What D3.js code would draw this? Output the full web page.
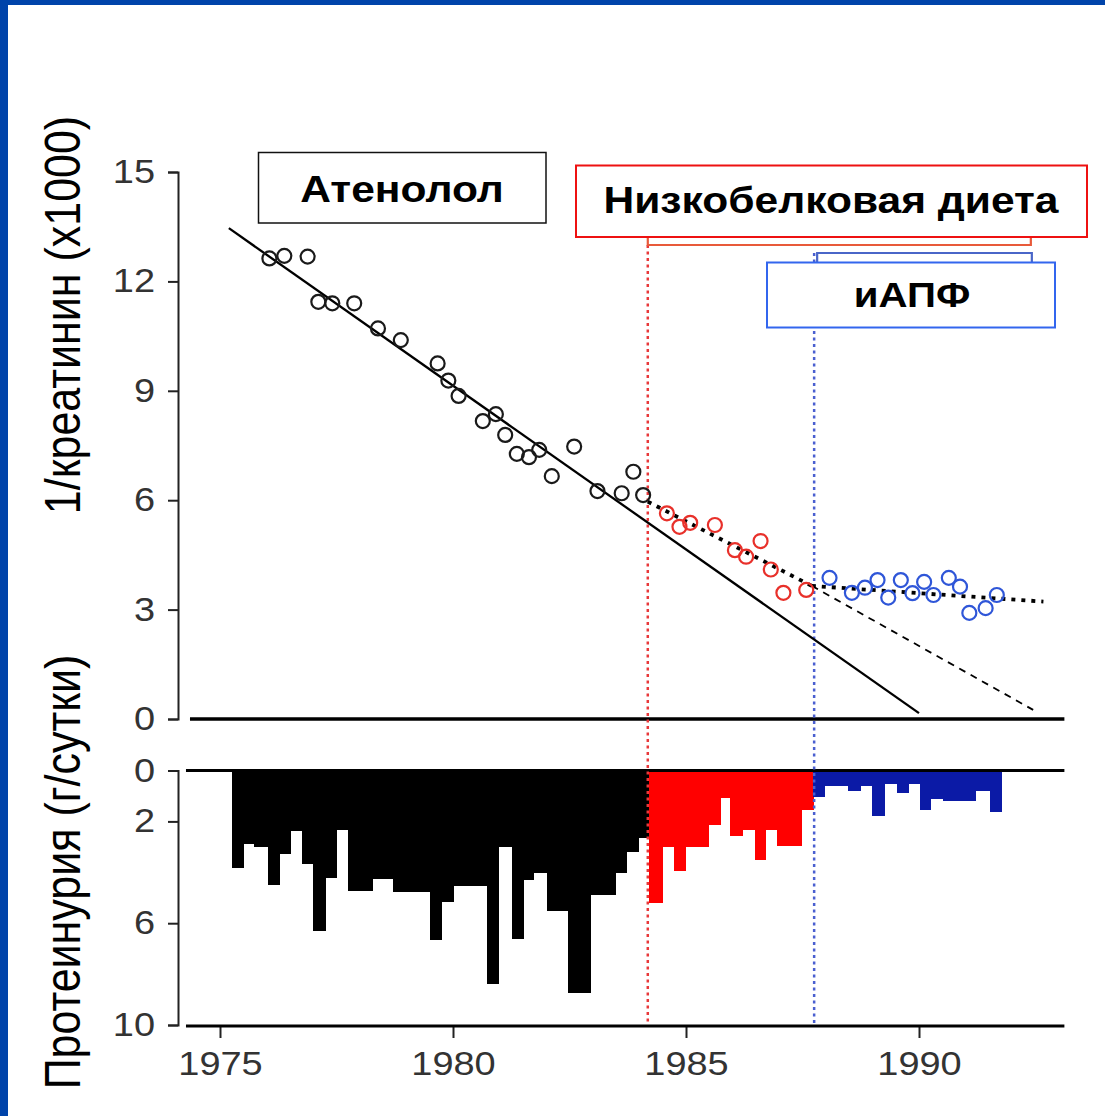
<!DOCTYPE html>
<html><head><meta charset="utf-8">
<script src="https://cdn.jsdelivr.net/npm/d3@7"></script>
<style>
html,body{margin:0;padding:0;background:#fff;}
svg{display:block;}
text{font-family:"Liberation Sans",Arial,sans-serif;}
</style></head>
<body>
<svg id="chart" width="1105" height="1116"></svg>
<script>
// ---- data ----
// 1/creatinine (x1000), by phase
const atenololYears = [1976.06,1976.38,1976.88,1977.11,1977.41,1977.88,1978.39,1978.88,1979.67,1979.90,1980.12,1980.64,1980.92,1981.12,1981.37,1981.63,1981.85,1982.12,1982.60,1983.10,1983.62,1983.87,1984.08];
const atenololVals  = [12.63,12.70,12.68,11.44,11.40,11.40,10.71,10.39,9.75,9.28,8.86,8.17,8.36,7.79,7.27,7.18,7.38,6.66,7.47,6.25,6.19,6.78,6.14];
const dietYears = [1984.59,1984.86,1985.09,1985.62,1986.05,1986.29,1986.60,1986.82,1987.09,1987.58];
const dietVals  = [5.64,5.27,5.38,5.32,4.63,4.45,4.88,4.10,3.46,3.54];
const aceYears = [1988.08,1988.56,1988.84,1989.11,1989.34,1989.61,1989.86,1990.11,1990.31,1990.64,1990.88,1991.08,1991.43,1991.67];
const aceVals  = [3.87,3.46,3.60,3.81,3.33,3.81,3.45,3.76,3.40,3.87,3.63,2.91,3.04,3.40];

// fitted trend lines [year, value]
const atenololFit = [[1975.19,13.46],[1990.0,0.16]];
const dietFit     = [[1984.18,5.96],[1987.70,3.65]];
const dietExtrap  = [[1987.70,3.65],[1992.45,0.25]];
const aceFit      = [[1987.70,3.65],[1992.67,3.22]];

// proteinuria (g/day): step bars, edges in years
const atenololEdges = [1975.25,1975.50,1975.73,1976.02,1976.27,1976.50,1976.77,1977.00,1977.27,1977.50,1977.75,1978.28,1978.72,1979.51,1979.76,1980.01,1980.72,1980.97,1981.26,1981.51,1981.72,1982.01,1982.47,1982.94,1983.48,1983.73,1983.98,1984.20];
const atenololProt  = [3.83,2.89,3.02,4.50,3.28,2.36,3.67,6.30,4.24,2.34,4.75,4.27,4.79,6.65,5.15,4.53,8.37,3.02,6.63,4.30,4.04,5.54,8.73,4.88,4.04,3.22,2.65];
const dietEdges = [1984.20,1984.50,1984.74,1984.98,1985.48,1985.73,1985.94,1986.22,1986.48,1986.71,1986.96,1987.48,1987.73];
const dietProt  = [5.22,2.99,3.96,2.99,2.13,1.08,2.56,2.32,3.52,2.32,2.95,1.55];
const aceEdges = [1987.73,1987.96,1988.48,1988.75,1989.00,1989.25,1989.53,1989.77,1990.02,1990.24,1990.51,1991.22,1991.52,1991.77];
const aceProt  = [1.05,0.59,0.79,0.59,1.80,0.52,0.89,0.52,1.55,1.11,1.21,0.79,1.64];

// treatment starts and bracket end
const dietStart = 1984.18;
const aceStart = 1987.75;
const therapyEnd = 1992.4;

const xTicks = [1975,1980,1985,1990];
const yTopTicks = [0,3,6,9,12,15];
const yBotTicks = [0,2,6,10];
const xExtent = [1974.27,1993.12];

const labelAtenolol = "Атенолол";
const labelDiet = "Низкобелковая диета";
const labelAce = "иАПФ";
const titleTop = "1/креатинин (x1000)";
const titleBot = "Протеинурия (г/сутки)";

// ---- drawing ----
const SX = 1.15; // horizontal stretch of the original slide text
const svg = d3.select("#chart");
svg.append("rect").attr("width",1105).attr("height",1116).attr("fill","#fff");

const x = d3.scaleLinear().domain([1975,1990]).range([220,919]);
const yTop = d3.scaleLinear().domain([0,15]).range([719,172]);
const yBot = d3.scaleLinear().domain([0,10]).range([770.5,1025]);

const RED="#ff0000", BLUE="#0b1aa6";
const RED_PT="#e8302a", BLUE_PT="#2f56d8";

// bars
function bars(edges, vals, color){
  svg.append("g").attr("shape-rendering","crispEdges").selectAll("rect").data(vals).join("rect")
    .attr("x", (d,i)=>x(edges[i]))
    .attr("width", (d,i)=>x(edges[i+1])-x(edges[i])+0.6)
    .attr("y", yBot(0))
    .attr("height", d=>yBot(d)-yBot(0))
    .attr("fill", color);
}
bars(atenololEdges, atenololProt, "#000");
bars(dietEdges, dietProt, RED);
bars(aceEdges, aceProt, BLUE);

// baselines
svg.append("line").attr("x1",x(xExtent[0])+4).attr("x2",x(xExtent[1])).attr("y1",yTop(0)).attr("y2",yTop(0)).attr("stroke","#000").attr("stroke-width",3.5);
svg.append("line").attr("x1",x(xExtent[0])).attr("x2",x(xExtent[1])).attr("y1",yBot(0)).attr("y2",yBot(0)).attr("stroke","#000").attr("stroke-width",3);

// vertical phase lines
svg.append("line").attr("x1",x(dietStart)).attr("x2",x(dietStart)).attr("y1",245).attr("y2",1026)
  .attr("stroke","#e8383a").attr("stroke-width",2.5).attr("stroke-dasharray","3,3.5");
svg.append("line").attr("x1",x(aceStart)).attr("x2",x(aceStart)).attr("y1",253).attr("y2",1026)
  .attr("stroke","#4a5fd0").attr("stroke-width",2.5).attr("stroke-dasharray","3,3.5");

// brackets
svg.append("path").attr("d",`M${x(dietStart)},237V245H${x(therapyEnd)}V237`).attr("fill","none").attr("stroke","#e85a3a").attr("stroke-width",2.2);
svg.append("path").attr("d",`M${x(aceStart)+3},262V253H${x(therapyEnd)+1}V262`).attr("fill","none").attr("stroke","#4a66c8").attr("stroke-width",2.2);

// trend lines
const line = d3.line().x(d=>x(d[0])).y(d=>yTop(d[1]));
svg.append("path").datum(atenololFit).attr("d",line).attr("stroke","#000").attr("stroke-width",2.3).attr("fill","none");
svg.append("path").datum(dietExtrap).attr("d",line).attr("stroke","#000").attr("stroke-width",1.8).attr("fill","none").attr("stroke-dasharray","7,6");
svg.append("path").datum(dietFit).attr("d",line).attr("stroke","#000").attr("stroke-width",3.8).attr("fill","none").attr("stroke-dasharray","4,6");
svg.append("path").datum(aceFit).attr("d",line).attr("stroke","#000").attr("stroke-width",3.8).attr("fill","none").attr("stroke-dasharray","4,6");

// points
function pts(years, vals, color){
  svg.append("g").selectAll("circle").data(vals).join("circle")
    .attr("cx",(d,i)=>x(years[i])).attr("cy",d=>yTop(d)).attr("r",7)
    .attr("fill","none").attr("stroke",color).attr("stroke-width",2.2);
}
pts(atenololYears, atenololVals, "#1a1a1a");
pts(dietYears, dietVals, RED_PT);
pts(aceYears, aceVals, BLUE_PT);

// axes
function styleAxis(g){
  g.select(".domain").attr("stroke","#222").attr("stroke-width",2);
  g.selectAll(".tick line").attr("stroke","#222").attr("stroke-width",2);
  g.selectAll(".tick text").attr("fill","#333").attr("font-size",33)
    .attr("font-family","'Liberation Sans',Arial,sans-serif");
}
const gTop = svg.append("g").attr("transform","translate(178,0)")
  .call(d3.axisLeft(yTop).tickValues(yTopTicks).tickSize(10).tickPadding(13).tickFormat(d3.format("d")));
styleAxis(gTop);
gTop.selectAll(".tick text").attr("x",-23/SX).attr("transform",`scale(${SX},1)`);

const gBot = svg.append("g").attr("transform","translate(178,0)")
  .call(d3.axisLeft(yBot).tickValues(yBotTicks).tickSize(10).tickPadding(13).tickFormat(d3.format("d")));
styleAxis(gBot);
gBot.selectAll(".tick text").attr("x",-23/SX).attr("transform",`scale(${SX},1)`);

const gX = svg.append("g").attr("transform","translate(0,1026)")
  .call(d3.axisBottom(x).tickValues(xTicks).tickSize(12).tickSizeOuter(0).tickPadding(14).tickFormat(d3.format("d")));
styleAxis(gX);
gX.select(".domain").remove();
gX.selectAll(".tick text").attr("transform",`scale(${SX},1)`);
svg.append("line").attr("x1",x(xExtent[0])).attr("x2",x(xExtent[1])).attr("y1",1026).attr("y2",1026).attr("stroke","#000").attr("stroke-width",3);

// axis titles
function vtitle(txt, cx, cy, fs){
  svg.append("text").attr("transform",`translate(${cx},${cy}) rotate(-90) scale(1,${SX})`)
    .attr("text-anchor","middle").attr("font-size",fs).attr("fill","#000").text(txt);
}
vtitle(titleTop, 80, 315, 43);
vtitle(titleBot, 80, 872, 43);

// label boxes
function box(x0,y0,x1,y1,stroke,sw,txt,tx,ty,fs){
  svg.append("rect").attr("x",x0).attr("y",y0).attr("width",x1-x0).attr("height",y1-y0)
    .attr("fill","#fff").attr("stroke",stroke).attr("stroke-width",sw);
  svg.append("text").attr("transform",`translate(${tx},${ty}) scale(${SX},1)`)
    .attr("text-anchor","middle").attr("font-size",fs).attr("font-weight","bold").attr("fill","#000").text(txt);
}
box(258.5,152.5,546,223,"#111",1.5,labelAtenolol,402,201.5,37);
box(576,165.5,1087,237,"#ee1111",2,labelDiet,831,213,37);
box(767,262.5,1055,327.5,"#3366ee",2,labelAce,912,306.5,35);

// slide frame
svg.append("rect").attr("x",0).attr("y",0).attr("width",1105).attr("height",5).attr("fill","#0044aa");
svg.append("rect").attr("x",0).attr("y",0).attr("width",8).attr("height",1116).attr("fill","#0044aa");
</script>
</body></html>
